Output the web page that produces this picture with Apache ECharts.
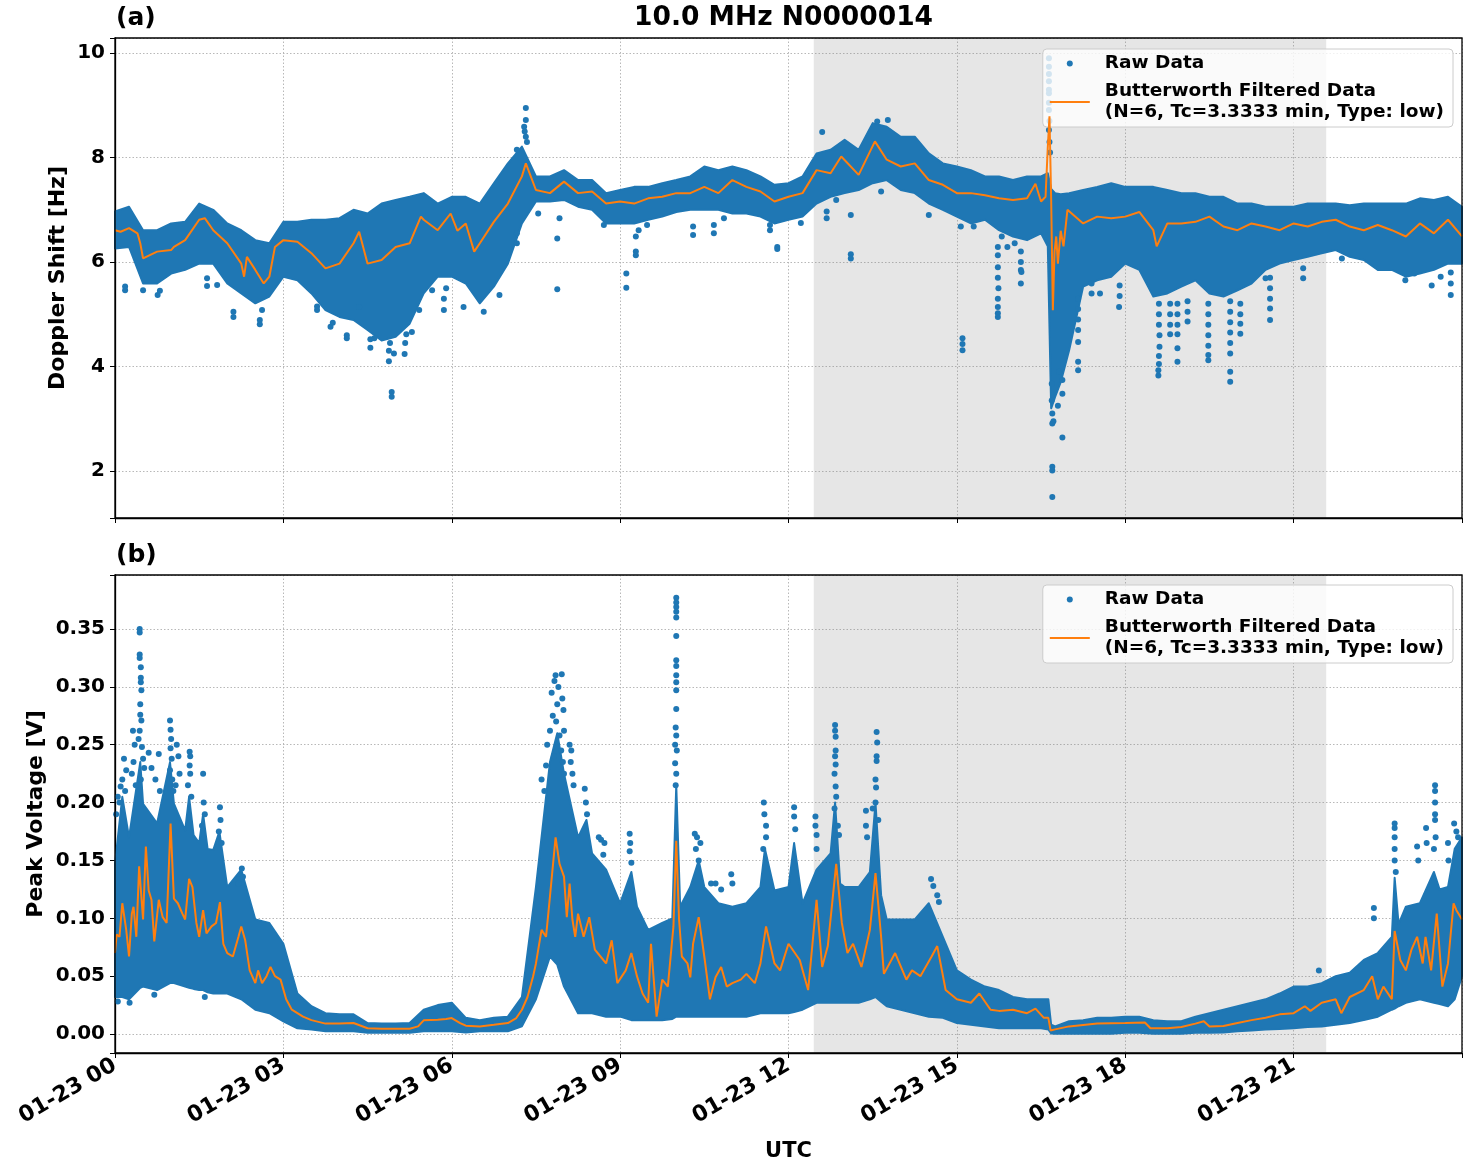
<!DOCTYPE html>
<html>
<head>
<meta charset="utf-8">
<title>10.0 MHz N0000014</title>
<script src="https://cdn.jsdelivr.net/npm/echarts@6.0.0/dist/echarts.min.js"></script>
<style>
  html, body { margin: 0; padding: 0; background: #fff; }
  #chart { width: 1472px; height: 1172px; }
</style>
</head>
<body>
<div id="chart"></div>
<script>
// ---- data (hours after 01-23 00:00 UTC) ----
// dense part of the raw cloud: [hour, low, high]
const dopplerEnvelope = [
  [0,6.26,6.97],[0.25,6.29,7.06],[0.5,5.59,6.61],[0.75,5.59,6.61],[1,5.78,6.74],[1.25,5.85,6.77],
  [1.5,5.97,7.12],[1.75,5.97,7.00],[2,5.59,6.74],[2.25,5.40,6.61],[2.5,5.21,6.42],[2.75,5.34,6.36],
  [3,5.72,6.77],[3.25,5.65,6.77],[3.5,5.40,6.81],[3.75,5.08,6.81],[4,4.95,6.84],[4.25,4.89,7.00],
  [4.5,4.70,6.93],[4.75,4.50,7.12],[5,4.57,7.19],[5.25,4.82,7.25],[5.5,5.40,7.32],[5.75,5.72,7.12],
  [6,5.72,7.25],[6.25,5.59,7.25],[6.5,5.21,7.12],[6.75,5.53,7.51],[7,5.97,7.89],[7.25,6.74,8.21],
  [7.5,7.16,7.64],[7.75,7.16,7.64],[8,7.19,7.76],[8.25,7.06,7.57],[8.5,7.00,7.57],[8.75,6.74,7.32],
  [9,6.74,7.38],[9.25,6.74,7.44],[9.5,6.81,7.44],[9.75,6.87,7.51],[10,6.96,7.57],[10.25,7.00,7.64],
  [10.5,7.00,7.83],[10.75,7.00,7.76],[11,6.93,7.83],[11.25,6.93,7.76],[11.5,6.87,7.64],[11.75,6.74,7.48],
  [12,6.81,7.51],[12.25,6.87,7.64],[12.5,7.12,8.08],[12.75,7.25,8.15],[13,7.32,8.34],[13.25,7.38,8.15],
  [13.5,7.51,8.66],[13.75,7.57,8.59],[14,7.38,8.40],[14.25,7.32,8.40],[14.5,7.12,8.08],[14.75,7.00,7.89],
  [15,6.87,7.83],[15.25,6.74,7.76],[15.5,6.81,7.64],[15.75,6.61,7.64],[16,6.49,7.57],[16.25,6.42,7.64],
  [16.5,6.55,7.64],[16.62,6.30,7.70],[16.68,3.20,7.40],[16.75,3.42,7.32],[16.85,3.70,7.30],[17,4.31,7.32],
  [17.25,5.53,7.38],[17.5,5.65,7.44],[17.75,5.72,7.51],[18,5.97,7.44],[18.25,5.85,7.44],[18.5,5.34,7.44],
  [18.75,5.40,7.38],[19,5.53,7.32],[19.25,5.65,7.32],[19.5,5.40,7.25],[19.75,5.34,7.25],[20,5.46,7.12],
  [20.25,5.59,7.12],[20.5,5.85,7.06],[20.75,5.97,7.06],[21,6.04,7.06],[21.25,6.10,7.12],[21.5,6.17,7.12],
  [21.75,6.23,7.12],[22,6.10,7.09],[22.25,6.04,7.12],[22.5,5.85,7.12],[22.75,5.85,7.12],[23,5.72,7.12],
  [23.25,5.78,7.22],[23.5,5.85,7.19],[23.75,5.97,7.25],[24,5.97,7.06]
];

// isolated raw points outside the dense part: [hour, Hz]
const dopplerOutliers = [
  [0.18,5.46],[0.18,5.53],[0.5,5.46],[0.76,5.37],[0.8,5.45],[1.64,5.54],[1.64,5.69],[1.82,5.56],
  [2.11,4.95],[2.11,5.05],[2.58,4.81],[2.58,4.89],[2.62,5.08],[3.6,5.08],[3.6,5.15],[3.84,4.76],
  [3.88,4.84],[4.13,4.54],[4.13,4.6],[4.35,5.14],[4.55,4.36],[4.55,4.52],[4.62,4.54],[4.88,4.10],
  [4.88,4.3],[4.9,4.45],[4.93,3.51],[4.93,3.42],[4.97,4.25],[5.16,4.24],[5.17,4.45],[5.19,4.62],
  [5.29,4.66],[5.42,5.08],[5.65,5.46],[5.86,5.08],[5.86,5.3],[5.9,5.5],
  [6.21,5.14],[6.57,5.05],[6.85,5.37],[7.16,6.36],[7.16,6.55],[7.54,6.93],[7.88,6.45],[7.88,5.48],
  [7.92,6.84],[7.32,8.95],[7.32,8.72],[7.29,8.59],[7.32,8.40],[7.16,8.15],[7.3,8.5],[7.34,8.3],
  [8.71,6.71],[9.11,5.78],[9.11,5.51],[9.28,6.49],[9.28,6.2],[9.28,6.13],[9.33,6.61],[9.48,6.71],
  [10.3,6.68],[10.3,6.52],[10.67,6.71],[10.67,6.55],[10.85,6.84],[11.67,6.71],[11.67,6.61],[11.8,6.29],
  [11.8,6.25],[12.22,6.75],[12.6,8.49],[12.68,6.97],[12.68,6.84],[12.85,7.19],[13.11,6.9],[13.11,6.15],
  [13.11,6.07],[13.65,7.35],[13.77,8.72],[13.58,8.69],[14.5,6.9],[15.07,6.68],[15.1,4.54],[15.1,4.43],
  [15.1,4.31],[15.3,6.68],[15.73,6.29],[15.73,6.13],[15.73,5.9],[15.73,5.7],[15.74,5.5],[15.73,5.3],
  [15.73,5.14],[15.73,5.02],[15.73,4.95],[15.9,6.29],[15.8,6.49],[16.14,6.2],[16.14,6.0],[16.14,5.85],
  [16.14,5.59],[16.15,5.81],[16.03,6.36],
  [16.64,9.9],[16.64,9.74],[16.64,9.6],[16.64,9.46],[16.64,9.3],[16.64,9.23],[16.64,9.05],[16.64,8.91],
  [16.65,8.7],[16.64,8.53],[16.65,8.3],[16.66,8.1],[16.7,2.91],[16.7,2.08],[16.7,2.01],[16.7,1.50],
  [16.88,2.64],[16.69,3.35],[16.69,3.67],[16.88,3.74],[16.88,3.48],[16.7,3.1],[16.72,2.95],[16.8,3.25],
  [16.82,3.9],[17.16,5.3],[17.16,5.1],[17.16,4.9],[17.16,4.7],[17.16,4.47],[17.16,4.09],[17.16,3.93],
  [17.4,5.59],[17.4,5.4],[17.55,5.40],[17.89,5.14],[17.9,5.35],[17.9,5.55],
  [18.59,3.83],[18.59,3.93],[18.6,4.05],[18.6,4.2],[18.61,4.38],[18.61,4.6],[18.6,4.8],[18.6,5.0],[18.6,5.2],
  [18.8,4.62],[18.8,4.8],[18.8,5.0],[18.8,5.2],[18.93,4.62],[18.93,4.35],[18.93,4.09],[18.93,4.8],
  [18.93,5.0],[18.93,5.2],[19.11,4.86],[19.11,5.05],[19.11,5.25],[19.48,4.22],[19.48,4.12],[19.48,4.4],
  [19.48,4.6],[19.48,4.8],[19.48,5.0],[19.48,5.2],[19.87,4.25],[19.87,3.71],[19.87,3.9],[19.87,4.45],
  [19.87,4.65],[19.87,4.85],[19.87,5.05],[19.87,5.25],[20.05,4.82],[20.05,4.63],[20.05,5.0],[20.05,5.2],
  [20.58,5.11],[20.58,4.89],[20.58,5.3],[20.58,5.5],[20.58,5.7],[20.5,5.69],[21.17,5.69],[21.17,5.88],
  [21.86,6.07],[23.15,5.78],[23.46,5.55],[23.8,5.59],[23.8,5.37],[23.8,5.8],[23.62,5.72],[22.99,5.65]
];

// Butterworth low-pass output, Doppler: [hour, Hz]
const dopplerFiltered = [
  [0,6.61],[0.1,6.58],[0.25,6.65],[0.4,6.55],[0.45,6.36],[0.5,6.07],[0.75,6.2],[1,6.23],[1.05,6.29],
  [1.25,6.42],[1.5,6.81],[1.6,6.84],[1.75,6.61],[2,6.36],[2.25,5.97],[2.3,5.72],[2.35,6.1],[2.5,5.85],
  [2.65,5.59],[2.75,5.72],[2.85,6.29],[3,6.42],[3.25,6.39],[3.5,6.17],[3.75,5.88],[4,5.97],[4.25,6.36],
  [4.35,6.58],[4.5,5.97],[4.75,6.04],[5,6.29],[5.25,6.36],[5.45,6.87],[5.5,6.81],[5.75,6.61],[5.98,6.93],
  [6.1,6.6],[6.25,6.74],[6.4,6.2],[6.5,6.36],[6.75,6.77],[7,7.12],[7.25,7.64],[7.32,7.89],[7.5,7.38],
  [7.75,7.32],[8,7.54],[8.25,7.32],[8.5,7.35],[8.75,7.12],[9,7.16],[9.25,7.12],[9.5,7.22],[9.75,7.25],
  [10,7.32],[10.25,7.32],[10.5,7.44],[10.75,7.32],[11,7.57],[11.25,7.44],[11.5,7.35],[11.75,7.16],
  [12,7.25],[12.25,7.32],[12.5,7.76],[12.75,7.7],[12.94,8.02],[13.25,7.67],[13.54,8.31],[13.75,7.96],
  [14,7.83],[14.25,7.89],[14.5,7.57],[14.75,7.48],[15,7.32],[15.25,7.32],[15.5,7.28],[15.75,7.22],
  [16,7.19],[16.25,7.22],[16.4,7.5],[16.5,7.16],[16.58,7.25],[16.62,8.2],[16.65,8.79],[16.68,7.2],
  [16.71,5.08],[16.74,6.2],[16.77,6.49],[16.8,5.97],[16.85,6.6],[16.9,6.3],[16.97,7.0],[17.25,6.74],
  [17.5,6.87],[17.75,6.84],[18,6.87],[18.25,6.96],[18.5,6.61],[18.56,6.3],[18.75,6.74],[19,6.74],
  [19.25,6.77],[19.5,6.87],[19.75,6.68],[20,6.61],[20.25,6.74],[20.5,6.68],[20.75,6.61],[21,6.74],
  [21.25,6.68],[21.5,6.77],[21.75,6.81],[22,6.68],[22.25,6.61],[22.5,6.71],[22.75,6.61],[23,6.49],
  [23.25,6.74],[23.5,6.55],[23.75,6.81],[24,6.49]
];

const voltageEnvelope = [
  [0,0.032,0.147],[0.13,0.032,0.205],[0.25,0.030,0.170],[0.45,0.040,0.235],[0.5,0.041,0.199],[0.75,0.038,0.182],
  [0.98,0.044,0.235],[1.05,0.044,0.199],[1.25,0.041,0.176],[1.32,0.040,0.205],[1.4,0.039,0.172],
  [1.5,0.038,0.165],[1.57,0.038,0.19],[1.65,0.036,0.16],[1.75,0.035,0.159],[1.86,0.035,0.175],[2,0.035,0.127],
  [2.25,0.030,0.142],[2.5,0.021,0.099],[2.75,0.018,0.096],
  [3,0.011,0.078],[3.25,0.005,0.035],[3.5,0.004,0.024],[3.75,0.0023,0.018],[4,0.0023,0.017],[4.25,0.0023,0.017],
  [4.5,0.001,0.0095],[4.75,0.001,0.009],[5,0.001,0.009],[5.25,0.001,0.0095],[5.5,0.0023,0.021],[5.75,0.0023,0.025],
  [6,0.0023,0.027],[6.25,0.0014,0.014],[6.5,0.0023,0.012],[6.75,0.0023,0.014],[7,0.0023,0.015],[7.25,0.0066,0.032],
  [7.5,0.030,0.127],[7.75,0.067,0.235],[7.88,0.06,0.26],[8,0.041,0.225],[8.25,0.018,0.170],[8.4,0.018,0.185],
  [8.5,0.018,0.156],[8.75,0.015,0.142],
  [9,0.015,0.113],[9.2,0.012,0.14],[9.3,0.012,0.11],[9.5,0.012,0.090],[9.75,0.012,0.096],[9.93,0.013,0.10],[10,0.015,0.215],
  [10.07,0.015,0.11],[10.25,0.015,0.127],[10.4,0.015,0.15],[10.5,0.015,0.127],[10.75,0.015,0.113],[11,0.015,0.110],[11.25,0.015,0.113],
  [11.5,0.018,0.127],[11.58,0.018,0.16],[11.75,0.018,0.124],[12,0.018,0.127],[12.1,0.019,0.165],[12.25,0.021,0.113],
  [12.5,0.027,0.142],[12.75,0.027,0.156],
  [12.83,0.027,0.2],[12.92,0.027,0.13],[13,0.027,0.127],[13.25,0.027,0.127],[13.45,0.030,0.14],[13.55,0.032,0.2],
  [13.65,0.028,0.12],[13.75,0.024,0.099],[14,0.021,0.099],[14.25,0.018,0.099],[14.5,0.015,0.113],[14.75,0.014,0.084],
  [15,0.0095,0.055],[15.25,0.008,0.047],[15.5,0.0066,0.041],[15.75,0.005,0.038],[16,0.005,0.032],[16.25,0.005,0.030],
  [16.5,0.005,0.030],[16.63,0.004,0.030],[16.68,0.0005,0.008],[16.75,0.0003,0.0066],[17,0.0003,0.011],[17.25,0.0003,0.012],
  [17.5,0.0003,0.014],[17.75,0.0003,0.014],[18,0.001,0.015],[18.25,0.001,0.015],[18.5,0.0003,0.012],[18.75,0.0003,0.011],
  [19,0.0003,0.011],[19.25,0.001,0.015],[19.5,0.001,0.018],[19.75,0.0014,0.021],[20,0.0023,0.024],[20.25,0.003,0.027],
  [20.5,0.004,0.030],[20.75,0.0043,0.035],[21,0.005,0.041],[21.25,0.006,0.041],[21.5,0.0066,0.044],[21.75,0.008,0.050],
  [22,0.0095,0.053],[22.25,0.012,0.064],[22.5,0.015,0.070],[22.75,0.021,0.084],[22.8,0.022,0.135],[22.87,0.024,0.095],
  [23,0.027,0.110],[23.25,0.030,0.113],[23.5,0.027,0.14],[23.6,0.026,0.125],[23.75,0.024,0.127],[23.87,0.03,0.16],[24,0.050,0.170]
];

const voltageOutliers = [
  [0.44,0.350],[0.44,0.347],[0.44,0.328],[0.44,0.325],[0.46,0.317],[0.46,0.308],[0.46,0.304],[0.47,0.297],
  [0.45,0.285],[0.45,0.276],[0.47,0.271],[0.44,0.262],[0.42,0.255],[0.48,0.248],[0.5,0.238],[0.52,0.23],[0.46,0.22],
  [0.32,0.262],[0.35,0.25],[0.33,0.235],[0.3,0.225],[0.37,0.215],[0.16,0.238],[0.2,0.228],[0.13,0.22],[0.18,0.21],
  [0.05,0.205],[0.1,0.214],[0.08,0.2],[0.02,0.19],[0.6,0.243],[0.65,0.23],[0.72,0.22],[0.78,0.242],[0.8,0.21],
  [0.98,0.271],[0.99,0.263],[1.0,0.255],[0.99,0.247],[1.01,0.238],[0.98,0.228],[1.02,0.22],[1.04,0.21],
  [1.1,0.25],[1.13,0.24],[1.15,0.225],[1.08,0.215],[1.33,0.244],[1.34,0.24],[1.33,0.232],[1.34,0.225],[1.3,0.215],
  [1.36,0.205],[1.57,0.225],[1.58,0.2],[1.6,0.19],[1.55,0.18],[1.87,0.196],[1.88,0.185],[1.85,0.175],[1.9,0.165],
  [2.26,0.143],[2.28,0.136],[2.2,0.13],[0.26,0.027],[0.7,0.034],[1.6,0.032],[0.05,0.028],
  [7.85,0.31],[7.83,0.305],[7.9,0.3],[7.78,0.295],[7.88,0.285],[7.8,0.275],[7.86,0.27],[7.75,0.262],[7.92,0.258],
  [7.7,0.25],[7.95,0.245],[7.82,0.24],[7.68,0.232],[7.98,0.235],[7.6,0.22],[7.65,0.21],[8.0,0.225],
  [7.96,0.311],[7.97,0.29],[7.99,0.28],[8.0,0.262],[8.1,0.25],[8.13,0.245],[8.12,0.235],[8.15,0.225],[8.17,0.215],
  [8.37,0.212],[8.39,0.2],[8.41,0.19],[8.62,0.17],[8.66,0.168],[8.72,0.165],[8.7,0.155],
  [9.17,0.173],[9.18,0.165],[9.17,0.158],[9.2,0.148],
  [10.0,0.377],[10.0,0.373],[10.0,0.369],[10.0,0.365],[10.0,0.360],[10.0,0.344],[10.0,0.323],[10.0,0.318],
  [10.0,0.31],[10.0,0.304],[10.0,0.297],[10.0,0.281],[9.99,0.265],[10.0,0.258],[9.98,0.25],[10.01,0.245],
  [9.98,0.234],[10.0,0.225],[9.99,0.215],
  [10.33,0.173],[10.37,0.17],[10.35,0.16],[10.43,0.165],[10.4,0.15],[10.62,0.13],[10.7,0.13],[10.8,0.125],
  [10.98,0.138],[11.0,0.13],[11.56,0.2],[11.57,0.19],[11.6,0.18],[11.6,0.17],[11.55,0.16],
  [12.1,0.196],[12.1,0.188],[12.12,0.177],[12.48,0.188],[12.48,0.18],[12.5,0.172],[12.5,0.16],
  [12.83,0.267],[12.83,0.262],[12.84,0.257],[12.84,0.245],[12.83,0.24],[12.84,0.233],[12.82,0.225],[12.84,0.214],
  [12.85,0.205],[12.82,0.195],[12.88,0.18],[12.9,0.172],
  [13.57,0.261],[13.58,0.252],[13.57,0.24],[13.57,0.236],[13.55,0.22],[13.56,0.213],[13.55,0.2],[13.5,0.195],
  [13.6,0.185],[13.38,0.193],[13.38,0.18],[13.4,0.17],[14.54,0.134],[14.58,0.128],[14.65,0.12],[14.68,0.114],
  [21.45,0.055],[22.43,0.109],[22.43,0.1],[22.8,0.182],[22.8,0.178],[22.8,0.17],[22.8,0.16],[22.8,0.15],[22.82,0.14],
  [23.2,0.162],[23.22,0.15],[23.36,0.178],[23.37,0.165],[23.52,0.215],[23.52,0.21],[23.52,0.2],[23.52,0.19],
  [23.52,0.185],[23.53,0.17],[23.5,0.16],[23.75,0.165],[23.76,0.15],[23.86,0.182],[23.9,0.175],[23.93,0.17]
];

const voltageFiltered = [
  [0,0.070],[0.03,0.086],[0.08,0.084],[0.13,0.113],[0.2,0.090],[0.25,0.067],[0.3,0.104],[0.33,0.110],
  [0.38,0.084],[0.43,0.145],[0.5,0.099],[0.55,0.162],[0.6,0.124],[0.65,0.116],[0.7,0.080],[0.78,0.116],
  [0.85,0.101],[0.92,0.096],[0.99,0.182],[1.05,0.117],[1.12,0.113],[1.2,0.104],[1.25,0.099],[1.32,0.134],
  [1.38,0.127],[1.45,0.096],[1.5,0.084],[1.57,0.107],[1.63,0.087],[1.72,0.093],[1.8,0.096],[1.87,0.114],
  [1.93,0.078],[2,0.070],[2.1,0.067],[2.2,0.084],[2.25,0.093],[2.32,0.081],[2.4,0.055],[2.5,0.044],
  [2.55,0.055],[2.62,0.044],[2.7,0.050],[2.77,0.058],[2.85,0.050],[2.95,0.047],[3.05,0.030],[3.15,0.021],
  [3.25,0.018],[3.35,0.015],[3.5,0.012],[3.75,0.009],[4,0.009],[4.25,0.0095],[4.5,0.005],[4.75,0.0046],
  [5,0.0046],[5.25,0.0046],[5.4,0.0066],[5.5,0.0118],[5.75,0.0124],[5.9,0.013],[6,0.0138],[6.15,0.0095],
  [6.25,0.0072],[6.5,0.0066],[6.75,0.008],[7,0.0095],[7.15,0.0138],[7.25,0.021],[7.35,0.032],[7.45,0.050],
  [7.5,0.061],[7.6,0.090],[7.68,0.084],[7.75,0.119],[7.85,0.170],[7.92,0.147],[8,0.136],[8.05,0.101],
  [8.1,0.130],[8.15,0.099],[8.2,0.084],[8.25,0.104],[8.35,0.084],[8.45,0.101],[8.55,0.073],[8.65,0.067],
  [8.75,0.061],[8.85,0.081],[8.95,0.044],[9.1,0.055],[9.2,0.070],[9.3,0.050],[9.4,0.035],[9.5,0.027],
  [9.55,0.078],[9.65,0.015],[9.75,0.047],[9.85,0.041],[9.95,0.093],[10,0.167],[10.05,0.099],[10.1,0.067],
  [10.2,0.061],[10.25,0.049],[10.3,0.078],[10.4,0.101],[10.5,0.067],[10.6,0.030],[10.7,0.049],[10.8,0.058],
  [10.9,0.041],[11,0.044],[11.15,0.047],[11.25,0.052],[11.4,0.044],[11.5,0.061],[11.6,0.093],[11.75,0.061],
  [11.85,0.055],[12,0.078],[12.2,0.064],[12.35,0.038],[12.5,0.116],[12.6,0.058],[12.7,0.076],[12.85,0.147],
  [12.95,0.096],[13.05,0.070],[13.15,0.078],[13.3,0.058],[13.45,0.090],[13.55,0.139],[13.65,0.084],[13.7,0.052],
  [13.9,0.070],[14.1,0.047],[14.2,0.055],[14.35,0.050],[14.55,0.067],[14.65,0.076],[14.8,0.038],[15,0.030],
  [15.25,0.027],[15.4,0.035],[15.6,0.021],[15.75,0.020],[16,0.021],[16.25,0.018],[16.4,0.022],[16.55,0.014],
  [16.63,0.014],[16.67,0.003],[16.75,0.004],[17,0.0066],[17.5,0.009],[18,0.0095],[18.35,0.010],[18.45,0.005],
  [18.75,0.005],[19,0.006],[19.25,0.009],[19.4,0.011],[19.5,0.0066],[19.75,0.007],[20,0.0095],[20.25,0.012],
  [20.5,0.014],[20.75,0.017],[21,0.018],[21.2,0.024],[21.3,0.020],[21.5,0.027],[21.75,0.030],[21.85,0.018],
  [22,0.032],[22.25,0.038],[22.4,0.050],[22.5,0.030],[22.6,0.041],[22.75,0.030],[22.8,0.089],[22.9,0.064],
  [23,0.055],[23.1,0.073],[23.2,0.084],[23.3,0.061],[23.35,0.084],[23.45,0.055],[23.55,0.104],[23.65,0.041],
  [23.75,0.061],[23.85,0.113],[23.9,0.107],[24,0.099]
];

// shaded interval (hours)
const shadeSpan = [12.45, 21.58];

// ---- chart ----
const BLUE = '#1f77b4';
const ORANGE = '#ff7f0e';
const FONT = 'DejaVu Sans';
const RAW_NAME = 'Raw Data';
const FILT_NAME = 'Butterworth Filtered Data\n(N=6, Tc=3.3333 min, Type: low)';

const chart = echarts.init(document.getElementById('chart'), null, { renderer: 'canvas' });

const gridRects = [
  { left: 115, top: 38, width: 1347, height: 480 },
  { left: 115, top: 575, width: 1347, height: 478 }
];

const dotted = { color: '#b0b0b0', width: 0.9, type: [1.5, 2] };

function xAxisFor(idx, showLabels) {
  return {
    type: 'value', gridIndex: idx, min: 0, max: 24, interval: 3,
    axisLine: { show: true, onZero: false, lineStyle: { color: '#000', width: 1.3 } },
    axisTick: { show: true, inside: false, length: 5, lineStyle: { color: '#000', width: 1 } },
    splitLine: { show: true, lineStyle: dotted },
    axisLabel: {
      show: showLabels, rotate: 30, margin: 11,
      fontFamily: FONT, fontSize: 22, fontWeight: 'bold', color: '#000',
      formatter: v => (v % 3 === 0 && v < 24) ? '01-23 ' + String(v).padStart(2, '0') : ''
    },
    name: showLabels ? 'UTC' : '',
    nameLocation: 'middle', nameGap: 88, nameMoveOverlap: false,
    nameTextStyle: { fontFamily: FONT, fontSize: 21, fontWeight: 'bold', color: '#000' }
  };
}

// dense cloud drawn as one filled polygon between the low and high edges
function bandSeries(idx, env) {
  return {
    type: 'custom', coordinateSystem: 'cartesian2d',
    xAxisIndex: idx, yAxisIndex: idx, z: 2, silent: true,
    encode: { x: 0, y: [1, 2] },
    data: env,
    renderItem: (params, api) => {
      if (params.dataIndex !== 0) return null;
      const upper = env.map(r => api.coord([r[0], r[2]]));
      const lower = env.map(r => api.coord([r[0], r[1]])).reverse();
      return {
        type: 'polygon',
        shape: { points: upper.concat(lower) },
        style: { fill: BLUE, stroke: BLUE, lineWidth: 2, lineJoin: 'round' }
      };
    }
  };
}

function panelSeries(idx, env, outliers, filtered) {
  return [
    {
      type: 'line', xAxisIndex: idx, yAxisIndex: idx, data: [], z: 1, silent: true,
      markArea: {
        silent: true,
        itemStyle: { color: 'rgba(128,128,128,0.2)' },
        data: [[{ xAxis: shadeSpan[0] }, { xAxis: shadeSpan[1] }]]
      }
    },
    bandSeries(idx, env),
    {
      name: RAW_NAME, type: 'scatter', xAxisIndex: idx, yAxisIndex: idx, z: 3,
      symbol: 'circle', symbolSize: 6, itemStyle: { color: BLUE, opacity: 1 },
      data: outliers
    },
    {
      name: FILT_NAME, type: 'line', xAxisIndex: idx, yAxisIndex: idx, z: 4,
      symbol: 'none', showSymbol: false, lineStyle: { color: ORANGE, width: 2 },
      data: filtered
    }
  ];
}

function legendFor(top) {
  return {
    show: true, orient: 'vertical', right: 19, top: top,
    data: [RAW_NAME, { name: FILT_NAME, itemStyle: { opacity: 0 } }],
    itemWidth: 40, itemHeight: 6, itemGap: 7,
    padding: [4, 9, 4, 6],
    backgroundColor: 'rgba(255,255,255,0.8)',
    borderColor: '#cccccc', borderWidth: 1, borderRadius: 4,
    selectedMode: false,
    textStyle: {
      fontFamily: FONT, fontSize: 18.5, fontWeight: 'bold', color: '#000',
      lineHeight: 21, padding: [0, 0, 0, 10]
    }
  };
}

const titleStyle = { fontFamily: FONT, fontWeight: 'bold', color: '#000' };

chart.setOption({
  animation: false,
  backgroundColor: '#fff',
  textStyle: { fontFamily: FONT },
  title: [
    { text: '10.0 MHz N0000014', left: 634, top: 5, padding: 0,
      textStyle: Object.assign({ fontSize: 26.5 }, titleStyle) },
    { text: '(a)', left: 116, top: 6, padding: 0,
      textStyle: Object.assign({ fontSize: 25 }, titleStyle) },
    { text: '(b)', left: 116, top: 543, padding: 0,
      textStyle: Object.assign({ fontSize: 25 }, titleStyle) }
  ],
  legend: [legendFor(49), legendFor(585)],
  grid: gridRects.map(g => Object.assign({ containLabel: false, outerBoundsMode: 'none' }, g)),
  xAxis: [xAxisFor(0, false), xAxisFor(1, true)],
  yAxis: [
    {
      type: 'value', gridIndex: 0, min: 1.1, max: 10.29,
      axisLine: { show: true, onZero: false, lineStyle: { color: '#000', width: 1.3 } },
      axisTick: { show: true, length: 5, lineStyle: { color: '#000', width: 1 } },
      splitLine: { show: true, lineStyle: dotted },
      axisLabel: {
        margin: 10, fontFamily: FONT, fontSize: 20, fontWeight: 'bold', color: '#000',
        formatter: v => Math.abs(v / 2 - Math.round(v / 2)) < 1e-6 ? String(Math.round(v)) : ''
      },
      name: 'Doppler Shift [Hz]', nameLocation: 'middle', nameGap: 46, nameMoveOverlap: false,
      nameTextStyle: { fontFamily: FONT, fontSize: 22, fontWeight: 'bold', color: '#000' }
    },
    {
      type: 'value', gridIndex: 1, min: -0.0164, max: 0.3967, splitNumber: 8,
      axisLine: { show: true, onZero: false, lineStyle: { color: '#000', width: 1.3 } },
      axisTick: { show: true, length: 5, lineStyle: { color: '#000', width: 1 } },
      splitLine: { show: true, lineStyle: dotted },
      axisLabel: {
        margin: 10, fontFamily: FONT, fontSize: 20, fontWeight: 'bold', color: '#000',
        formatter: v => {
          const k = v / 0.05;
          return Math.abs(k - Math.round(k)) < 1e-6 ? Math.abs(v).toFixed(2) : '';
        }
      },
      name: 'Peak Voltage [V]', nameLocation: 'middle', nameGap: 68, nameMoveOverlap: false,
      nameTextStyle: { fontFamily: FONT, fontSize: 22, fontWeight: 'bold', color: '#000' }
    }
  ],
  graphic: gridRects.map(g => ({
    type: 'rect', silent: true, z: 100,
    shape: { x: g.left, y: g.top, width: g.width, height: g.height },
    style: { fill: null, stroke: '#000', lineWidth: 1.3 }
  })),
  series: [
    ...panelSeries(0, dopplerEnvelope, dopplerOutliers, dopplerFiltered),
    ...panelSeries(1, voltageEnvelope, voltageOutliers, voltageFiltered)
  ]
});
</script>
</body>
</html>
